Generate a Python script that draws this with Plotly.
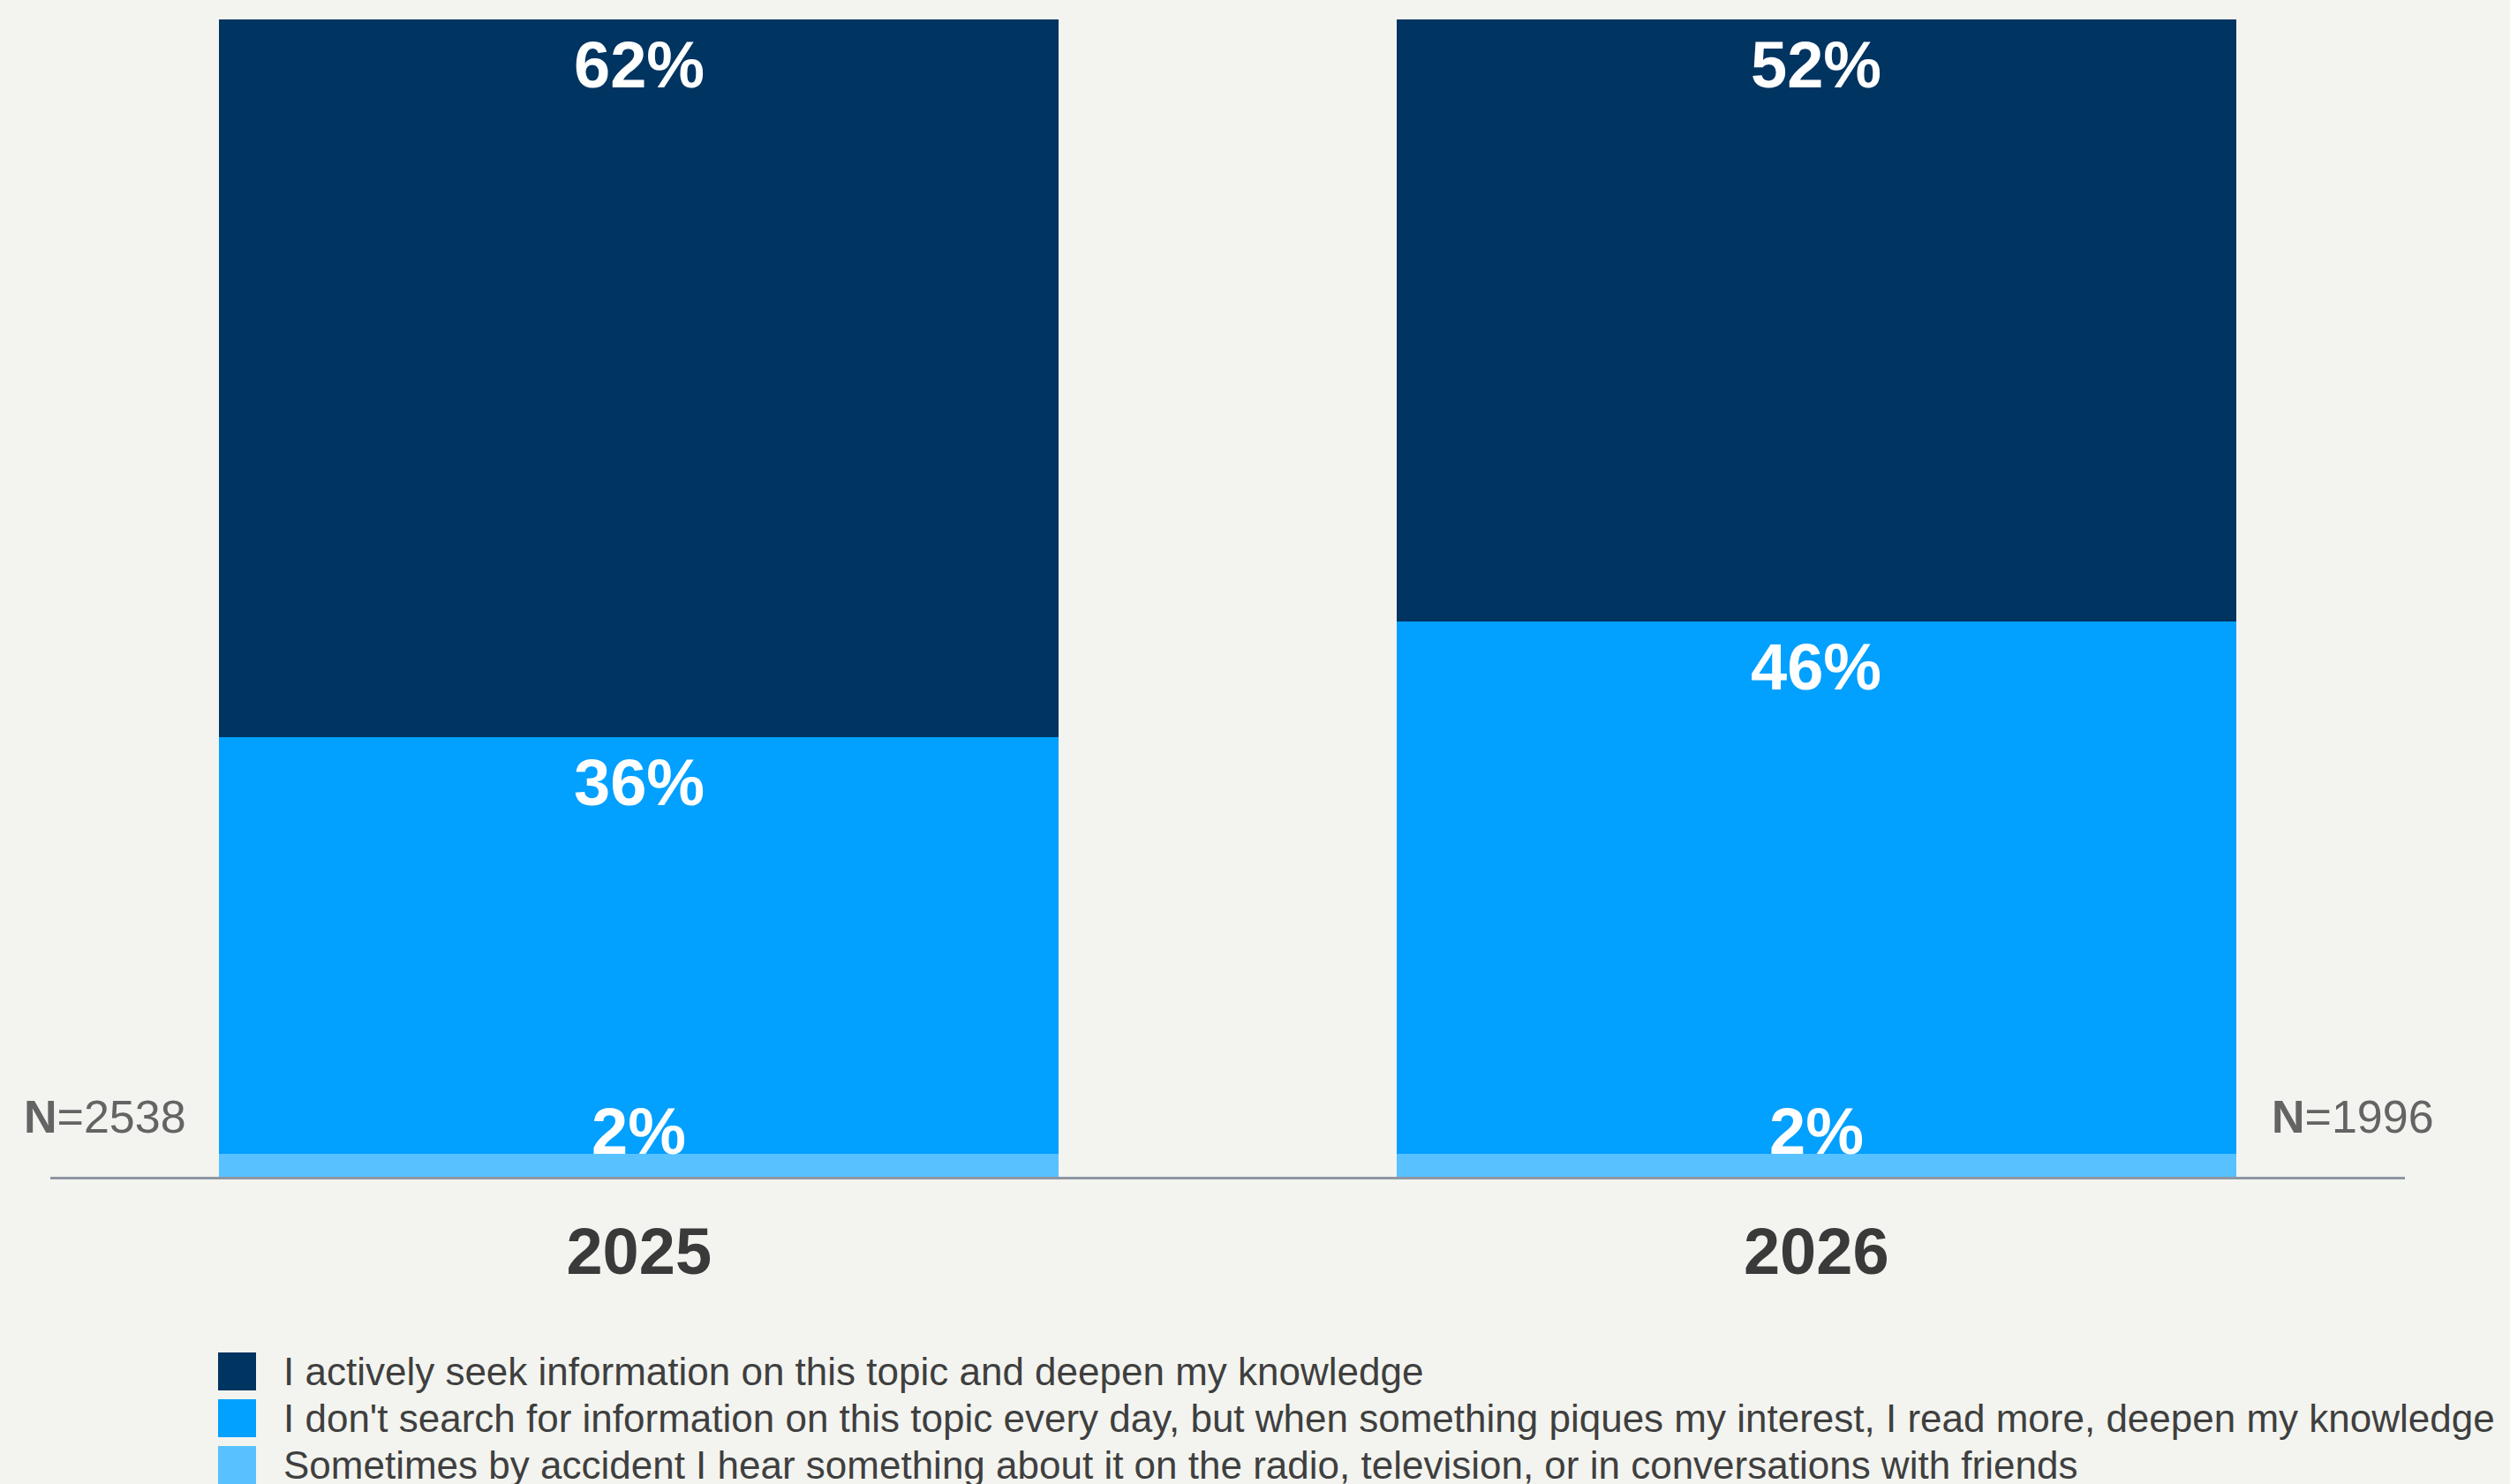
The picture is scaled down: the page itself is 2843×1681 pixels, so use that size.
import plotly.graph_objects as go

# --- data ---
anos = ["2025", "2026"]
busca_ativa = [62, 52]
busca_ocasional = [36, 46]
por_acaso = [2, 2]
amostras = [2538, 1996]

series_nomes = [
    "Sometimes by accident I hear something about it on the radio, television, or in conversations with friends",
    "I don't search for information on this topic every day, but when something piques my interest, I read more, deepen my knowledge",
    "I actively seek information on this topic and deepen my knowledge",
]
series_valores = [por_acaso, busca_ocasional, busca_ativa]
series_cores = ["#58C1FF", "#02A0FF", "#003461"]

FONTE = "Liberation Sans, Arial, sans-serif"
FUNDO = "#F3F4EF"
W, H = 2843, 1681
M_L, M_R, M_T, M_B = 57, 119, 22, 348
PLOT_W = W - M_L - M_R
PLOT_H = H - M_T - M_B
LARGURA_BARRA = 0.713


def px_x(px):
    return (px - M_L) / PLOT_W


def px_y(py):
    return (H - M_B - py) / PLOT_H


fig = go.Figure()
for nome, valores, cor in zip(series_nomes, series_valores, series_cores):
    fig.add_trace(go.Bar(
        x=anos, y=valores, name=nome, marker_color=cor,
        marker_line_width=0, width=LARGURA_BARRA, showlegend=False,
        hoverinfo="skip",
    ))

anotacoes = []
# rótulos de percentagem (topo de cada segmento); x pelo índice da categoria
for i in range(len(anos)):
    acumulado = 0
    for valores in series_valores:
        v = valores[i]
        acumulado += v
        pequeno = v < 5
        anotacoes.append(dict(
            x=i, y=acumulado, xref="x", yref="y",
            text=f"{v}%", showarrow=False,
            yanchor="bottom" if pequeno else "top",
            yshift=-18 if pequeno else -8,
            font=dict(family=FONTE, size=74, color="white", weight="bold"),
        ))

# N= ao lado das barras
for i, n in enumerate(amostras):
    esquerda = i == 0
    anotacoes.append(dict(
        x=i - LARGURA_BARRA / 2 if esquerda else i + LARGURA_BARRA / 2,
        y=0, xref="x", yref="y",
        text=f"<b>N</b>={n}", showarrow=False,
        xanchor="right" if esquerda else "left",
        xshift=-35 if esquerda else 38,
        yanchor="bottom", yshift=37,
        font=dict(family=FONTE, size=52, color="#646464"),
    ))

# legenda manual (quadrados grandes)
formas = []
for k, (nome, cor) in enumerate(zip(reversed(series_nomes), reversed(series_cores))):
    topo = 1532 + k * 53
    formas.append(dict(
        type="rect", xref="paper", yref="paper",
        x0=px_x(247), x1=px_x(290), y0=px_y(topo + 43), y1=px_y(topo),
        fillcolor=cor, line_width=0,
    ))
    anotacoes.append(dict(
        x=px_x(319), y=px_y(topo + 21.5), xref="paper", yref="paper",
        text=nome, showarrow=False, xanchor="left", yanchor="middle",
        font=dict(family=FONTE, size=44, color="#3F3F3F"),
    ))

fig.update_layout(
    barmode="stack",
    width=W, height=H,
    margin=dict(l=M_L, r=M_R, t=M_T, b=M_B, pad=0),
    paper_bgcolor=FUNDO,
    plot_bgcolor=FUNDO,
    font=dict(family=FONTE, color="#3A3A3A"),
    annotations=anotacoes,
    shapes=formas,
    showlegend=False,
)
fig.update_xaxes(
    type="category", range=[-0.5, len(anos) - 0.5],
    showline=True, linecolor="#8E96A3", linewidth=3,
    ticks="", showgrid=False, zeroline=False, ticklabelstandoff=18,
    tickfont=dict(family=FONTE, size=74, color="#3A3A3A", weight="bold"),
)
fig.update_yaxes(range=[0, 100], visible=False, showgrid=False, zeroline=False)

fig.write_html(
    "out.html",
    config={"displayModeBar": False},
    post_script="document.body.style.margin='0';",
)
